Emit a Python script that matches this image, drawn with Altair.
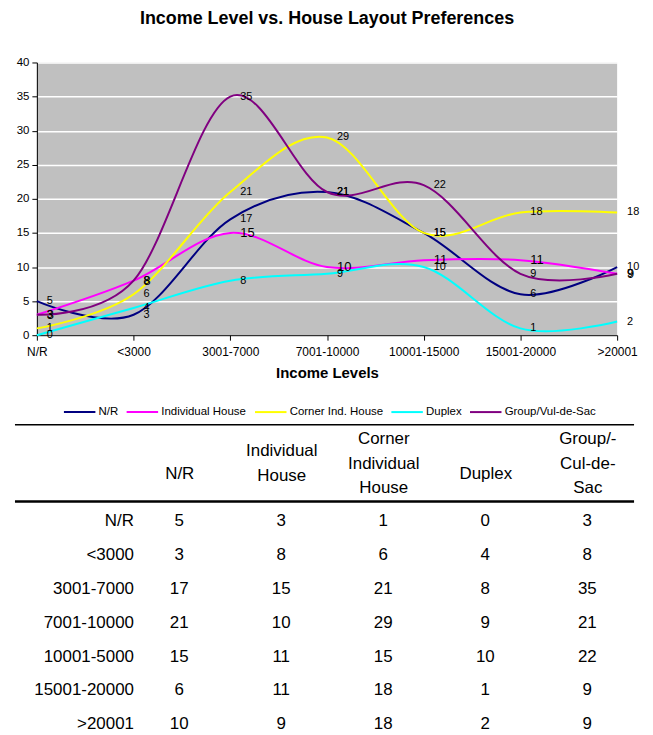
import altair as alt
import pandas as pd

# ---------------- data ----------------
categories = ["N/R", "<3000", "3001-7000", "7001-10000", "10001-15000", "15001-20000", ">20001"]
series_names = ["N/R", "Individual House", "Corner Ind. House", "Duplex", "Group/Vul-de-Sac"]
nr_values = [5, 3, 17, 21, 15, 6, 10]
individual_values = [3, 8, 15, 10, 11, 11, 9]
corner_values = [1, 6, 21, 29, 15, 18, 18]
duplex_values = [0, 4, 8, 9, 10, 1, 2]
group_values = [3, 8, 35, 21, 22, 9, 9]
series_colors = ["#000080", "#FF00FF", "#FFFF00", "#00FFFF", "#800080"]
y_ticks = [0, 5, 10, 15, 20, 25, 30, 35, 40]

table_rows = ["N/R", "<3000", "3001-7000", "7001-10000", "10001-5000", "15001-20000", ">20001"]
table_headers = ["N/R", "Individual|House", "Corner|Individual|House", "Duplex", "Group/-|Cul-de-|Sac"]

title_text = "Income Level vs. House Layout Preferences"
x_title = "Income Levels"
FONT = "Liberation Sans"

all_values = [nr_values, individual_values, corner_values, duplex_values, group_values]

records = []
for name, vals in zip(series_names, all_values):
    for cat, v in zip(categories, vals):
        records.append({"income": cat, "series": name, "count": v})
df = pd.DataFrame(records)

# ---------------- line chart ----------------
x_enc = alt.X(
    "income:N",
    sort=categories,
    scale=alt.Scale(type="point", padding=0),
    axis=alt.Axis(
        title=x_title, labelAngle=0, labelFontSize=12, labelFont=FONT, labelColor="black",
        labelPadding=6, tickSize=5, tickColor="black", domainColor="black",
        titleFontSize=15, titleFont=FONT, titleFontWeight="bold", titleColor="black",
        titlePadding=9, grid=False,
    ),
)
y_enc = alt.Y(
    "count:Q",
    scale=alt.Scale(domain=[0, 40], nice=False, zero=True),
    axis=alt.Axis(
        title=None, values=y_ticks, tickCount=20, labelFontSize=11.5, labelFont=FONT,
        labelColor="black", labelPadding=3, tickSize=5, tickColor="black",
        domainColor="black", grid=True, gridColor="white", gridWidth=1.5,
        labelOverlap=False,
    ),
)
color_enc = alt.Color(
    "series:N",
    sort=series_names,
    scale=alt.Scale(domain=series_names, range=series_colors),
    legend=alt.Legend(
        title=None, orient="none", direction="horizontal", legendX=26, legendY=334,
        symbolType="stroke", symbolSize=1000, symbolStrokeWidth=2, labelFontSize=11.5,
        labelFont=FONT, labelColor="black", labelOffset=2, columnPadding=4,
    ),
)

lines = alt.Chart(df).mark_line(interpolate="cardinal", strokeWidth=2).encode(
    x=x_enc, y=y_enc, color=color_enc
)
labels = alt.Chart(df).mark_text(
    align="left", baseline="middle", dx=10, color="black", font=FONT
).encode(
    x=x_enc,
    y=y_enc,
    text="count:Q",
    size=alt.condition(alt.datum.series == "Individual House", alt.value(13), alt.value(11)),
)

top = alt.layer(lines, labels).properties(
    width=583,
    height=274,
    title=alt.TitleParams(
        text=title_text, fontSize=18, font=FONT, fontWeight="bold", color="black",
        anchor="middle", frame="group", offset=29,
    ),
    view=alt.ViewBackground(fill="#C0C0C0", stroke=None),
)

# ---------------- table ----------------
trecords = []
for r_i, rlabel in enumerate(table_rows):
    trecords.append({"row": rlabel, "col": "__label", "txt": rlabel})
    for h, vals in zip(table_headers, all_values):
        trecords.append({"row": rlabel, "col": h, "txt": str(vals[r_i])})
tdf = pd.DataFrame(trecords)
col_domain = ["__label"] + table_headers

tx = alt.X(
    "col:N",
    sort=col_domain,
    scale=alt.Scale(type="point", domain=col_domain, padding=0.344, align=0.575),
    axis=alt.Axis(
        orient="top", title=None, domain=False, ticks=False, labelAngle=0,
        labelExpr="datum.value == '__label' ? '' : split(datum.value, '|')",
        labelFontSize=17, labelFont=FONT, labelColor="black", labelLineHeight=24.5,
        labelBaseline="middle",
        labelPadding={
            "condition": [
                {"test": "length(split(datum.value, '|')) == 3", "value": 63},
                {"test": "length(split(datum.value, '|')) == 2", "value": 51},
            ],
            "value": 28,
        },
    ),
)
ty = alt.Y("row:N", sort=table_rows, scale=alt.Scale(type="point", padding=0.59), axis=None)

cells = alt.Chart(tdf).transform_filter(alt.datum.col != "__label").mark_text(
    fontSize=17, font=FONT, color="black", baseline="middle", align="center"
).encode(x=tx, y=ty, text="txt:N")

row_labels = alt.Chart(tdf).transform_filter(alt.datum.col == "__label").mark_text(
    fontSize=17, font=FONT, color="black", baseline="middle", align="right", dx=57
).encode(x=tx, y=ty, text="txt:N")

one = pd.DataFrame({"k": [0]})
top_rule = alt.Chart(one).mark_rule(color="black", strokeWidth=1.5).encode(
    x=alt.value(-22), x2=alt.value(600), y=alt.value(-77)
)
head_rule = alt.Chart(one).mark_rule(color="black", strokeWidth=2.5).encode(
    x=alt.value(-22), x2=alt.value(600), y=alt.value(0)
)

table = alt.layer(cells, row_labels, top_rule, head_rule).properties(
    width=583, height=244, view=alt.ViewBackground(fill=None, stroke=None)
)

chart = alt.vconcat(top, table, spacing=6).resolve_scale(
    x="independent", y="independent", color="independent", size="independent"
).properties(
    padding={"left": 5, "top": 0, "right": 5, "bottom": 0}
).configure(font=FONT)

chart.save("out.html", embed_options={"renderer": "svg", "actions": False})
